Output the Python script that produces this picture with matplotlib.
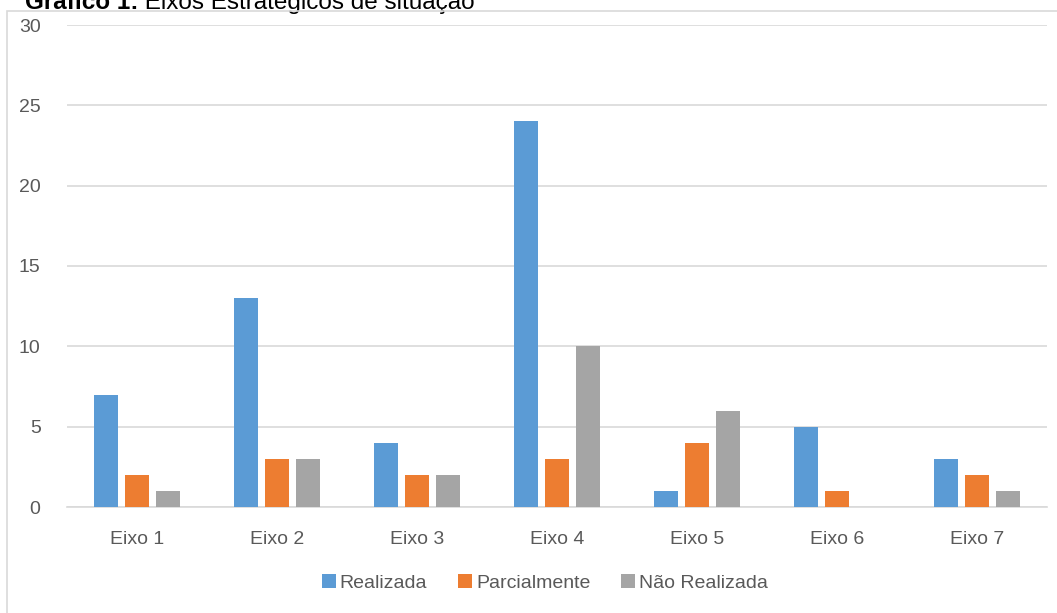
import matplotlib.pyplot as plt
import numpy as np
from matplotlib.patches import Rectangle

plt.rcParams['font.family'] = ['Liberation Sans', 'DejaVu Sans']

categories = ['Eixo 1', 'Eixo 2', 'Eixo 3', 'Eixo 4', 'Eixo 5', 'Eixo 6', 'Eixo 7']
realizada = [7, 13, 4, 24, 1, 5, 3]
parcialmente = [2, 3, 2, 3, 4, 1, 2]
nao_realizada = [1, 3, 2, 10, 6, 0, 1]
series_names = ['Realizada', 'Parcialmente', 'Não Realizada']
colors = ['#5B9BD5', '#ED7D31', '#A5A5A5']
yticks = [0, 5, 10, 15, 20, 25, 30]

fig = plt.figure(figsize=(10.57, 6.13), dpi=100)
ax = fig.add_axes([67 / 1057, 1 - 507 / 613, 980 / 1057, 482 / 613])

# outer chart frame (clipped at right/bottom like the source image)
fig.patches.append(Rectangle((7 / 1057, -0.05), 1.1, 1 - 11 / 613 + 0.05,
                             transform=fig.transFigure, fill=False,
                             edgecolor='#D9D9D9', linewidth=1.2))

x = np.arange(len(categories))
width = 0.175
step = 0.221
for i, (vals, name, c) in enumerate(zip([realizada, parcialmente, nao_realizada],
                                        series_names, colors)):
    ax.bar(x + (i - 1) * step, vals, width, color=c, label=name, zorder=3)

ax.set_xlim(-0.5, len(categories) - 0.5)
ax.set_ylim(0, 30)
ax.set_yticks(yticks)
ax.set_xticks(x)
ax.set_xticklabels(categories)
ax.yaxis.grid(True, color='#D9D9D9', linewidth=1.2, zorder=0)
for s in ['top', 'right', 'left']:
    ax.spines[s].set_visible(False)
ax.spines['bottom'].set_color('#D9D9D9')
ax.spines['bottom'].set_linewidth(1.2)
ax.tick_params(axis='both', length=0, colors='#595959', labelsize=14)
ax.tick_params(axis='y', pad=19)
ax.tick_params(axis='x', pad=17)

leg = fig.legend(loc='center', bbox_to_anchor=(545 / 1057, 1 - 583 / 613), ncol=3,
                 frameon=False, fontsize=14, handlelength=0.7, handleheight=0.7,
                 handletextpad=0.2, columnspacing=1.6)
for t in leg.get_texts():
    t.set_color('#595959')

# title partly cut off at the top of the image, as in the source
t1 = fig.text(25 / 1057, 1 - 9 / 613, 'Gráfico 1:', fontsize=17.5,
              fontweight='bold', va='baseline', ha='left')
ax.annotate(' Eixos Estratégicos de situação', xy=(1, 0), xycoords=t1,
            xytext=(0, 0), textcoords='offset points', fontsize=17.5,
            va='bottom', ha='left', annotation_clip=False)

fig.savefig('out.png', dpi=100)
